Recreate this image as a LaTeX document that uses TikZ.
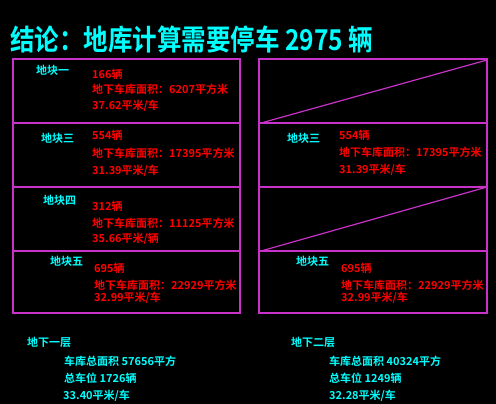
\documentclass[tikz,border=0pt]{standalone}
\usepackage{fontspec}
\setmainfont{Noto Sans CJK SC}[BoldFont={Noto Sans CJK SC Bold}]
\definecolor{cyanc}{RGB}{0,255,255}
\definecolor{redc}{RGB}{255,0,0}
\definecolor{magc}{RGB}{200,50,200}
\begin{document}
\begin{tikzpicture}[x=1pt,y=-1pt,
  lbl/.style={anchor=west,inner sep=0pt,text=cyanc,font=\bfseries\fontsize{11}{12}\selectfont},
  red/.style={anchor=west,inner sep=0pt,text=redc,font=\bfseries\fontsize{11}{12}\selectfont},
  sum/.style={anchor=west,inner sep=0pt,text=cyanc,font=\bfseries\fontsize{11}{12}\selectfont},
  frame/.style={draw=magc,line width=1.2pt}]
\fill[black] (0,0) rectangle (496,404);
\useasboundingbox (0,0) rectangle (496,404);
% title
\node[anchor=west,inner sep=0pt,text=cyanc,font=\bfseries\fontsize{25}{27}\selectfont] (title) at (10,39) {\scalebox{0.98}[1.15]{结论：地库计算需要停车 2975 辆}};
% left box
\draw[frame] (13,59) rectangle (240,313);
\draw[frame] (13,123) -- (240,123);
\draw[frame] (13,187) -- (240,187);
\draw[frame] (13,251) -- (240,251);
% right box
\draw[frame] (259,59) rectangle (487,313);
\draw[frame] (259,123) -- (487,123);
\draw[frame] (259,187) -- (487,187);
\draw[frame] (259,251) -- (487,251);
\coordinate (d1a) at (261,123); \coordinate (d1b) at (487,60);
\coordinate (d2a) at (261,251); \coordinate (d2b) at (487,187);
\draw[frame] (d1a) -- (d1b);
\draw[frame] (d2a) -- (d2b);
% left rows
\node[lbl] (l1) at (36,70) {地块一};
\node[red] (l1a) at (92,74) {166辆};
\node[red] (l1b) at (92,89) {地下车库面积：6207平方米};
\node[red] (l1c) at (92,106) {37.62平米/车};
\node[lbl] (l2) at (41,138) {地块三};
\node[red] (l2a) at (92,135) {554辆};
\node[red] (l2b) at (92,153) {地下车库面积：17395平方米};
\node[red] (l2c) at (92,171) {31.39平米/车};
\node[lbl] (l3) at (43,200) {地块四};
\node[red] (l3a) at (92,206) {312辆};
\node[red] (l3b) at (92,223) {地下车库面积：11125平方米};
\node[red] (l3c) at (92,239) {35.66平米/辆};
\node[lbl] (l4) at (50,261) {地块五};
\node[red] (l4a) at (94,268) {695辆};
\node[red] (l4b) at (94,285) {地下车库面积：22929平方米};
\node[red] (l4c) at (94,298) {32.99平米/车};
% right rows
\node[lbl] (r2) at (287,138) {地块三};
\node[red] (r2a) at (339,135) {554辆};
\node[red] (r2b) at (339,152) {地下车库面积：17395平方米};
\node[red] (r2c) at (339,170) {31.39平米/车};
\node[lbl] (r4) at (296,261) {地块五};
\node[red] (r4a) at (341,268) {695辆};
\node[red] (r4b) at (341,285) {地下车库面积：22929平方米};
\node[red] (r4c) at (341,298) {32.99平米/车};
% summary
\node[sum] (s1) at (27,342) {地下一层};
\node[sum] (s1a) at (64,361) {车库总面积 57656平方};
\node[sum] (s1b) at (64,378) {总车位 1726辆};
\node[sum] (s1c) at (63,396) {33.40平米/车};
\node[sum] (s2) at (291,342) {地下二层};
\node[sum] (s2a) at (329,361) {车库总面积 40324平方};
\node[sum] (s2b) at (329,378) {总车位 1249辆};
\node[sum] (s2c) at (329,396) {32.28平米/车};
\end{tikzpicture}
\end{document}
